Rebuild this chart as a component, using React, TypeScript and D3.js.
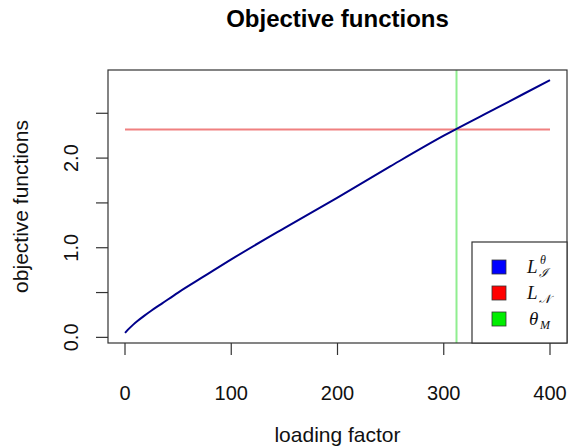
import React from 'react';
import * as d3 from 'd3';

// loading factor grid and objective L_I^theta
const loading = [0, 4, 8, 12, 18, 25, 35, 50, 75, 100, 150, 200, 250, 300, 350, 400];
const objL = [0.05, 0.1, 0.145, 0.185, 0.24, 0.3, 0.38, 0.5, 0.685, 0.87, 1.22, 1.56, 1.91, 2.25, 2.56, 2.87];
const objN = 2.32; // L_N, constant
const thetaM = 312; // vertical marker

const xTicks = [0, 100, 200, 300, 400];
const yTicks = [0, 0.5, 1, 1.5, 2, 2.5];
const yLabelled = [0, 1, 2];

const W = 569;
const H = 447;
const plot = { left: 108, right: 567, top: 70, bottom: 343 };
const SANS = '"Liberation Sans", Arial, Helvetica, sans-serif';
const SERIF = '"Liberation Serif", "DejaVu Serif", serif';

// R style 4% padding on both ends
const pad = (lo: number, hi: number): [number, number] => {
  const d = (hi - lo) * 0.04;
  return [lo - d, hi + d];
};

export default function App() {
  const x = d3.scaleLinear().domain(pad(0, 400)).range([plot.left, plot.right]);
  const [ymin, ymax] = d3.extent(objL) as [number, number];
  const y = d3.scaleLinear().domain(pad(ymin, ymax)).range([plot.bottom, plot.top]);

  const pts = loading.map((v, i) => [v, objL[i]] as [number, number]);
  const line = d3
    .line<[number, number]>()
    .x(d => x(d[0]))
    .y(d => y(d[1]))
    .curve(d3.curveMonotoneX);

  const legend = { x: 472, y: 242, w: plot.right - 472, h: plot.bottom - 242 };
  const rows = [
    { color: '#0000ff', cy: 267 },
    { color: '#ff0000', cy: 293 },
    { color: '#00ee00', cy: 319 },
  ];

  return (
    <svg
      width={W}
      height={H}
      style={{ position: 'absolute', left: 0, top: 0, background: '#fff' }}
      fontFamily={SANS}
    >
      <text x={(plot.left + plot.right) / 2} y={27} textAnchor="middle" fontSize={24} fontWeight="bold" fill="#000">
        Objective functions
      </text>

      {/* data */}
      <line x1={x(0)} x2={x(400)} y1={y(objN)} y2={y(objN)} stroke="#f08080" strokeWidth={2} />
      <line x1={x(thetaM)} x2={x(thetaM)} y1={plot.top} y2={plot.bottom} stroke="#90ee90" strokeWidth={2} />
      <path d={line(pts) || ''} fill="none" stroke="#00008b" strokeWidth={2} />

      {/* box */}
      <rect
        x={plot.left}
        y={plot.top}
        width={plot.right - plot.left}
        height={plot.bottom - plot.top}
        fill="none"
        stroke="#333"
        strokeWidth={1.2}
      />

      {/* x axis */}
      {xTicks.map(t => (
        <g key={'x' + t}>
          <line x1={x(t)} x2={x(t)} y1={plot.bottom} y2={plot.bottom + 12} stroke="#333" strokeWidth={1.2} />
          <text x={x(t)} y={400} textAnchor="middle" fontSize={20} fill="#111">
            {t}
          </text>
        </g>
      ))}
      <text x={(plot.left + plot.right) / 2} y={442} textAnchor="middle" fontSize={21} fill="#111">
        loading factor
      </text>

      {/* y axis */}
      {yTicks.map(t => (
        <line key={'y' + t} x1={plot.left - 12} x2={plot.left} y1={y(t)} y2={y(t)} stroke="#333" strokeWidth={1.2} />
      ))}
      {yLabelled.map(t => (
        <text
          key={'yl' + t}
          transform={`translate(78,${y(t)}) rotate(-90)`}
          textAnchor="middle"
          fontSize={20}
          fill="#111"
        >
          {t.toFixed(1)}
        </text>
      ))}
      <text transform={`translate(28,${(plot.top + plot.bottom) / 2}) rotate(-90)`} textAnchor="middle" fontSize={21} fill="#111">
        objective functions
      </text>

      {/* legend */}
      <rect x={legend.x} y={legend.y} width={legend.w} height={legend.h} fill="#fff" stroke="#333" strokeWidth={1.2} />
      {rows.map(r => (
        <rect key={r.color} x={492} y={r.cy - 7} width={14} height={14} fill={r.color} stroke="#333" strokeWidth={0.8} />
      ))}
      <g fontFamily={SERIF} fontStyle="italic" fill="#111">
        <text x={527} y={rows[0].cy + 6} fontSize={19}>L</text>
        <text x={540} y={rows[0].cy - 3} fontSize={12}>θ</text>
        <text x={539} y={rows[0].cy + 10} fontSize={12}>ℐ</text>
        <text x={527} y={rows[1].cy + 6} fontSize={19}>L</text>
        <text x={539} y={rows[1].cy + 10} fontSize={12}>𝒩</text>
        <text x={529} y={rows[2].cy + 6} fontSize={19}>θ</text>
        <text x={540} y={rows[2].cy + 10} fontSize={12}>M</text>
      </g>
    </svg>
  );
}
